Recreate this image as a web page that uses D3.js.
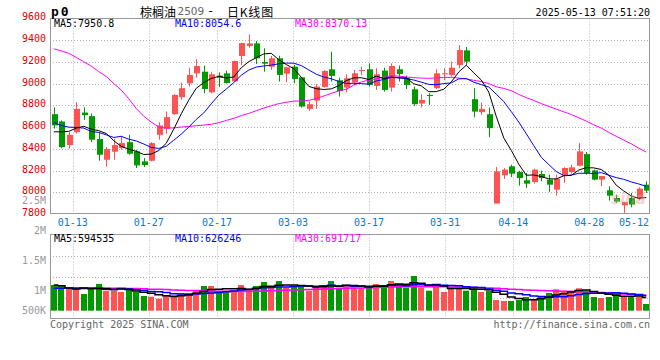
<!DOCTYPE html>
<html><head><meta charset="utf-8">
<script src="https://cdn.jsdelivr.net/npm/d3@7"></script>
<style>body{margin:0;background:#fff}</style>
</head><body><svg id="c" width="660" height="360"></svg>
<script>
const dates = ["01-08","01-09","01-10","01-13","01-14","01-15","01-16","01-17","01-20","01-21","01-22","01-23","01-24","01-27",
"02-05","02-06","02-07","02-10","02-11","02-12","02-13","02-14","02-17","02-18","02-19","02-20","02-21","02-24","02-25","02-26","02-27","02-28",
"03-03","03-04","03-05","03-06","03-07","03-10","03-11","03-12","03-13","03-14","03-17","03-18","03-19","03-20","03-21","03-24","03-25","03-26","03-27","03-28","03-31",
"04-01","04-02","04-03","04-07","04-08","04-09","04-10","04-11","04-14","04-15","04-16","04-17","04-18","04-21","04-22","04-23","04-24","04-25","04-28","04-29","04-30",
"05-06","05-07","05-08","05-09","05-12","05-13"];
const openP = [8718,8651,8434,8553,8733,8700,8489,8299,8373,8406,8461,8376,8284,8290,8528,8584,8718,8874,9002,9094,
9109,8919,9073,9094,9020,9253,9345,9369,9198,9155,9232,9091,9155,9057,8767,8843,8969,9131,9030,8963,
9009,9118,9131,8978,9119,8963,9131,9054,8947,8816,8895,8957,9088,9079,9171,9305,8856,8737,8718,7896,
8156,8238,8186,8110,8094,8168,8116,8024,8153,8186,8244,8351,8201,8116,8018,7948,7880,7948,7947,8070];
const highP = [8780,8660,8553,8828,8782,8724,8550,8415,8492,8519,8528,8390,8314,8461,8645,8743,8901,9009,9146,9223,
9165,9109,9103,9119,9210,9375,9452,9391,9324,9253,9256,9155,9171,9060,8834,8993,9125,9293,9054,9085,
9125,9155,9186,9140,9146,9186,9165,9073,8972,8901,8911,9131,9140,9201,9354,9336,8957,8825,8779,8232,
8223,8253,8198,8177,8217,8198,8162,8162,8229,8253,8452,8370,8208,8149,8055,7978,7911,7994,8045,8100];
const lowP = [8585,8405,8400,8540,8666,8461,8290,8235,8299,8391,8345,8223,8232,8284,8483,8538,8712,8850,8972,9054,
8911,8910,8969,9000,9018,9170,9330,9180,9109,9125,9018,9012,9002,8779,8749,8767,8963,9018,8880,8920,
8987,9079,8972,8941,8926,8926,9018,8950,8795,8779,8804,8950,9030,9064,9140,9171,8690,8712,8507,7896,
8122,8140,8061,8039,8079,8100,8003,7970,8088,8171,8238,8162,8110,8055,7923,7902,7810,7862,7925,7993];
const closeP = [8615,8415,8528,8767,8709,8483,8345,8397,8434,8452,8354,8247,8250,8452,8614,8691,8895,8957,9079,9161,
8950,9085,9054,9005,9207,9372,9369,9232,9183,9232,9079,9149,9042,8788,8810,8972,9115,9070,8932,9048,
9094,9124,8987,9085,8941,9161,9088,8987,8810,8849,8889,9094,9094,9146,9308,9201,8742,8767,8590,8192,
8208,8171,8131,8079,8208,8131,8070,8125,8223,8229,8376,8177,8116,8149,7969,7914,7911,7887,8033,8015];
const volume = [1132,1132,1013,1013,736,1013,1176,881,881,824,912,824,648,617,529,678,678,780,780,912,
1088,1088,881,881,912,1132,912,1088,1264,1013,1307,1013,1088,1132,881,1088,1088,1307,1013,1132,
1013,987,1088,1176,1132,1307,1176,1013,1529,1013,881,1176,824,1013,1013,881,1013,824,881,471,
427,427,471,604,471,648,780,943,881,881,987,881,604,559,604,780,617,617,617,295].map(v => v * 1000);
const ma30Price = [9320,9300,9278,9240,9200,9160,9110,9065,9000,8940,8860,8770,8700,8645,8600,8590,8592,8600,8605,8612,
8618,8625,8640,8660,8680,8705,8725,8750,8775,8795,8815,8828,8838,8840,8845,8862,8885,8910,8930,8947,
8985,9015,9030,9045,9058,9070,9068,9060,9054,9050,9048,9052,9056,9057,9050,9042,9030,9018,9000,8970,
8955,8935,8900,8870,8845,8815,8790,8765,8740,8715,8685,8655,8620,8590,8550,8515,8480,8445,8405,8370];
const ma5PriceStart = [8556,8556,8560,8590];
const ma10PriceStart = [8642,8614,8599,8596,8590,8559,8550,8528,8504];
const volMa5Start = [1132000,1100000,1000000,960000];
const volMa10Start = [990000,990000,985000,985000,980000,975000,970000,950000,930000];
const volMa30 = [1010,1010,1008,1005,1003,1000,998,995,990,985,980,975,965,950,940,930,915,905,895,885,
875,865,860,855,850,848,850,860,870,880,895,905,915,925,935,945,955,965,975,985,
995,1005,1015,1025,1035,1045,1050,1055,1058,1060,1058,1055,1050,1045,1040,1035,1025,1015,1000,985,
965,945,930,915,900,890,880,870,860,850,845,835,820,800,780,760,740,720,705,692].map(v => v * 1000);
const priceTicks = [9600,9400,9200,9000,8800,8600,8400,8200,8000,7800];
const volTickValues = [2500000,2000000,1500000,1000000,500000];
const volTickLabels = ["2.5M","2M","1.5M","1M","500K"];
const dateTicks = ["01-13","01-27","02-17","03-03","03-17","03-31","04-14","04-28","05-12"];
const legendPrice = ["MA5:7950.8","MA10:8054.6","MA30:8370.13"];
const legendVol = ["MA5:594535","MA10:626246","MA30:691717"];

const RED = "#ff5252", GREEN = "#009a00", GRID = "#b4b4b4", FRAME = "#999";
const MONO = "'DejaVu Sans Mono', monospace";
const svg = d3.select("#c");
const L = 50, R = 650, PT = 18.5, PB = 213.5, VT = 234.5, VB = 318.5;

const x = d3.scaleBand().domain(dates).range([L, R]).paddingInner(0.2).paddingOuter(0.1);
const bw = x.bandwidth();
const xGrid = d3.scalePoint().domain(dates).range([L, R]);
const cx = i => x(dates[i]) + bw / 2;
const yP = d3.scaleLinear().domain([7800, 9600]).range([214, 18.3]);
const yV = d3.scaleLinear().domain([0, 1000000]).range([310.7, 288]);
const yVLabel = d3.scaleLinear().domain([500000, 1000000, 2500000]).range([310.7, 290.7, 200]);

function sma(arr, n, head) {
  return arr.map((_, i) => i < head.length ? head[i] : d3.mean(arr.slice(i - n + 1, i + 1)));
}
const ma5P = sma(closeP, 5, ma5PriceStart);
const ma10P = sma(closeP, 10, ma10PriceStart);
const ma5V = sma(volume, 5, volMa5Start);
const ma10V = sma(volume, 10, volMa10Start);

// grids
const gx = d => Math.round(xGrid(d)) + 0.5;
const grid = svg.append("g").attr("stroke", GRID).attr("stroke-dasharray", "1,2").attr("fill", "none");
priceTicks.slice(1, -1).forEach(v => {
  const yy = Math.round(yP(v)) + 0.5;
  grid.append("line").attr("x1", L).attr("x2", R).attr("y1", yy).attr("y2", yy);
});
[1, 2, 3].forEach(k => {
  const yy = Math.round(VT + (VB - VT) * k / 4) + 0.5;
  grid.append("line").attr("x1", L).attr("x2", R).attr("y1", yy).attr("y2", yy);
});
dateTicks.slice(0, -1).forEach(d => {
  grid.append("line").attr("x1", gx(d)).attr("x2", gx(d)).attr("y1", PT).attr("y2", PB);
  grid.append("line").attr("x1", gx(d)).attr("x2", gx(d)).attr("y1", VT).attr("y2", VB);
});

// clip
svg.append("clipPath").attr("id", "cp").append("rect").attr("x", L).attr("y", PT).attr("width", R - L).attr("height", PB - PT);
svg.append("clipPath").attr("id", "cv").append("rect").attr("x", L).attr("y", VT).attr("width", R - L).attr("height", VB - VT);

// candles
const cg = svg.append("g").attr("clip-path", "url(#cp)");
dates.forEach((d, i) => {
  const up = closeP[i] >= openP[i];
  const col = up ? RED : GREEN;
  const c = Math.round(cx(i)) + 0.5;
  cg.append("line").attr("x1", c).attr("x2", c).attr("y1", yP(highP[i])).attr("y2", yP(lowP[i])).attr("stroke", col);
  const top = yP(Math.max(openP[i], closeP[i])), bot = yP(Math.min(openP[i], closeP[i]));
  cg.append("rect").attr("x", Math.round(c - 3)).attr("y", top).attr("width", 6).attr("height", Math.max(1, bot - top)).attr("fill", col);
});
const lineP = arr => d3.line().x((_, i) => cx(i)).y(v => yP(v))(arr);
cg.append("path").attr("d", lineP(ma30Price)).attr("stroke", "#ff00ff").attr("fill", "none");
cg.append("path").attr("d", lineP(ma10P)).attr("stroke", "#0000ff").attr("fill", "none");
cg.append("path").attr("d", lineP(ma5P)).attr("stroke", "#000").attr("fill", "none");

// watermark
svg.append("text").text("sina").attr("x", 611).attr("y", 204).attr("fill", "#e8a0a0").attr("opacity", 0.45)
  .style("font-family", "'DejaVu Sans', sans-serif").style("font-size", "15px").style("font-style", "italic").style("font-weight", "bold");

// volume
const vg = svg.append("g").attr("clip-path", "url(#cv)");
dates.forEach((d, i) => {
  const up = closeP[i] >= openP[i];
  vg.append("rect").attr("x", Math.round(cx(i) - 3)).attr("y", yV(volume[i])).attr("width", 6)
    .attr("height", yV(0) - yV(volume[i])).attr("fill", up ? RED : GREEN);
});
const lineV = arr => d3.line().curve(d3.curveStep).x((_, i) => cx(i)).y(v => yV(v))(arr);
vg.append("path").attr("d", lineV(volMa30)).attr("stroke", "#ff00ff").attr("stroke-width", 1.5).attr("fill", "none");
vg.append("path").attr("d", lineV(ma10V)).attr("stroke", "#0000ff").attr("stroke-width", 1.5).attr("fill", "none");
vg.append("path").attr("d", lineV(ma5V)).attr("stroke", "#000").attr("stroke-width", 1.5).attr("fill", "none");

// frames
svg.append("rect").attr("x", L + 0.5).attr("y", PT).attr("width", R - L - 1).attr("height", PB - PT).attr("fill", "none").attr("stroke", FRAME);
svg.append("rect").attr("x", L + 0.5).attr("y", VT).attr("width", R - L - 1).attr("height", VB - VT).attr("fill", "none").attr("stroke", FRAME);

// axis labels
const txt = (t, xx, yy, col, anchor, size) => svg.append("text").text(t).attr("x", xx).attr("y", yy)
  .attr("fill", col).attr("text-anchor", anchor || "start").attr("dominant-baseline", "central")
  .style("font-family", MONO).style("font-size", (size || 10) + "px");
priceTicks.forEach(v => txt(v, 46, yP(v) - 1.5, "#e00000", "end"));
volTickValues.forEach((v, k) => txt(volTickLabels[k], 46, yVLabel(v) + (k === 0 ? 0.5 : 0), "#999", "end"));
dateTicks.forEach(d => {
  const xx = Math.min(xGrid(d), R - 16);
  txt(d, xx, 222, "#0a78d2", "middle");
});

// legends
const legCols = ["#000", "#0000ff", "#ff00ff"], legX = [54, 175, 295];
legendPrice.forEach((t, k) => txt(t, legX[k], 23.5, legCols[k]));
legendVol.forEach((t, k) => txt(t, legX[k], 238.5, legCols[k]));

// header
txt("p0", 51, 11, "#000", "start", 13).style("font-weight", "bold").attr("letter-spacing", 2);
const CJK = "'Noto Sans CJK SC', sans-serif";
const tt = (t, xx, col, fam, size) => svg.append("text").text(t).attr("x", xx).attr("y", 11)
  .attr("dominant-baseline", "central").attr("fill", col)
  .style("font-family", fam).style("font-size", size + "px");
tt("棕榈油", 140, "#000", CJK, 12);
tt("2509", 177.5, "#666", "'DejaVu Sans', sans-serif", 10.5);
tt("-", 207, "#000", MONO, 12);
tt("日K线图", 227, "#000", CJK, 12).attr("letter-spacing", 0.8);
txt("2025-05-13 07:51:20", 650, 12, "#000", "end");

// footer
txt("Copyright 2025 SINA.COM", 50, 324, "#666");
txt("http://finance.sina.com.cn", 650, 324, "#666", "end");
</script></body></html>
